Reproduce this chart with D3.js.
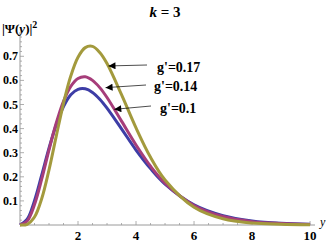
<!DOCTYPE html>
<html>
<head>
<meta charset="utf-8">
<script src="https://cdn.jsdelivr.net/npm/d3@7"></script>
<style>
  html, body { margin: 0; padding: 0; background: #fff; }
  svg { display: block; }
  text { font-family: "Liberation Serif", "DejaVu Serif", serif; }
</style>
</head>
<body>
<svg id="chart" width="330" height="244"></svg>
<script>
// Sample points
const xs = [0, 0.25, 0.5, 0.75, 1, 1.25, 1.5, 1.75, 2, 2.25, 2.5, 2.75, 3, 3.5, 4, 4.5, 5, 6, 7, 8, 9, 10];
const gBlue = [0, .024, .101, .208, .319, .416, .491, .540, .563, .565, .550, .522, .485, .399, .311, .234, .170, .084, .039, .017, .007, .003];
const gMagenta = [0, .017, .085, .191, .312, .423, .513, .575, .608, .615, .600, .570, .529, .431, .332, .244, .174, .081, .035, .014, .006, .002];
const gGold = [0, .003, .033, .110, .229, .369, .505, .618, .696, .736, .741, .716, .670, .541, .403, .281, .187, .074, .026, .008, .003, .001];

const xTicks = [2, 4, 6, 8, 10];
const yTicks = [0.1, 0.2, 0.3, 0.4, 0.5, 0.6, 0.7];

const series = [
    { name: "g'=0.1", values: gBlue, color: '#3d3da6' },
    { name: "g'=0.14", values: gMagenta, color: '#a63d7a' },
    { name: "g'=0.17", values: gGold, color: '#a39a3d' }
];

// label text, label anchor, arrow tip (data coords)
const labels = [
    { text: "g'=0.17", lx: 157, ly: 72, from: [147, 65], tip: [3.05, 0.66] },
    { text: "g'=0.14", lx: 154, ly: 91, from: [146, 85], tip: [2.95, 0.57] },
    { text: "g'=0.1", lx: 160, ly: 113, from: [151, 106], tip: [3.25, 0.48] }
];

const svg = d3.select('#chart');

const x = d3.scaleLinear().domain([0, 10.17]).range([20, 315]);
const y = d3.scaleLinear().domain([0, 0.8]).range([225, 32.2]);

const axisColor = '#9a9a9a';

// Axis lines
svg.append('line')
    .attr('x1', x(0)).attr('x2', x.range()[1])
    .attr('y1', y(0)).attr('y2', y(0))
    .attr('stroke', axisColor).attr('stroke-width', 1);
svg.append('line')
    .attr('x1', x(0)).attr('x2', x(0))
    .attr('y1', y(0)).attr('y2', y.range()[1])
    .attr('stroke', axisColor).attr('stroke-width', 1);

// X ticks (inward / upward)
const xMinor = d3.range(0.5, 10.01, 0.5).filter(v => !xTicks.includes(v));
svg.selectAll('.xminor').data(xMinor).join('line')
    .attr('x1', d => x(d)).attr('x2', d => x(d))
    .attr('y1', y(0)).attr('y2', y(0) - 2)
    .attr('stroke', axisColor).attr('stroke-width', 0.8);
svg.selectAll('.xmajor').data(xTicks).join('line')
    .attr('x1', d => x(d)).attr('x2', d => x(d))
    .attr('y1', y(0)).attr('y2', y(0) - 4)
    .attr('stroke', axisColor).attr('stroke-width', 0.8);
svg.selectAll('.xlab').data(xTicks).join('text')
    .attr('x', d => x(d)).attr('y', 240)
    .attr('text-anchor', 'middle')
    .attr('font-size', 13).attr('font-weight', 'bold')
    .text(d => d);

// Y ticks (inward / rightward)
const yMinor = d3.range(0.02, 0.79, 0.02).filter(v => !yTicks.some(t => Math.abs(t - v) < 1e-6));
svg.selectAll('.yminor').data(yMinor).join('line')
    .attr('x1', x(0)).attr('x2', x(0) + 2)
    .attr('y1', d => y(d)).attr('y2', d => y(d))
    .attr('stroke', axisColor).attr('stroke-width', 0.8);
svg.selectAll('.ymajor').data(yTicks).join('line')
    .attr('x1', x(0)).attr('x2', x(0) + 4)
    .attr('y1', d => y(d)).attr('y2', d => y(d))
    .attr('stroke', axisColor).attr('stroke-width', 0.8);
svg.selectAll('.ylab').data(yTicks).join('text')
    .attr('x', 18).attr('y', d => y(d) + 4)
    .attr('text-anchor', 'end')
    .attr('font-size', 12).attr('font-weight', 'bold')
    .text(d => d3.format('.1f')(d));

// Curves
const line = d3.line()
    .x((d, i) => x(xs[i]))
    .y(d => y(d))
    .curve(d3.curveCatmullRom.alpha(0.5));

svg.selectAll('.curve').data(series).join('path')
    .attr('d', d => line(d.values))
    .attr('fill', 'none')
    .attr('stroke', d => d.color)
    .attr('stroke-width', 3);

// Arrowhead marker
svg.append('defs').append('marker')
    .attr('id', 'arrow')
    .attr('viewBox', '0 0 10 10')
    .attr('refX', 10).attr('refY', 5)
    .attr('markerWidth', 9).attr('markerHeight', 7)
    .attr('markerUnits', 'userSpaceOnUse')
    .attr('orient', 'auto')
    .append('path')
    .attr('d', 'M0,0 L10,5 L0,10 Z')
    .attr('fill', '#000');

svg.selectAll('.arrow').data(labels).join('line')
    .attr('x1', d => d.from[0]).attr('y1', d => d.from[1])
    .attr('x2', d => x(d.tip[0])).attr('y2', d => y(d.tip[1]))
    .attr('stroke', '#000').attr('stroke-width', 0.7)
    .attr('marker-end', 'url(#arrow)');

svg.selectAll('.glab').data(labels).join('text')
    .attr('x', d => d.lx).attr('y', d => d.ly)
    .attr('font-size', 14).attr('font-weight', 'bold')
    .text(d => d.text);

// Title
const title = svg.append('text')
    .attr('x', 165).attr('y', 17)
    .attr('text-anchor', 'middle')
    .attr('font-size', 15).attr('font-weight', 'bold');
title.append('tspan').attr('font-style', 'italic').text('k');
title.append('tspan').text(' = 3');

// Y label
const yl = svg.append('text')
    .attr('x', 2).attr('y', 33)
    .attr('font-size', 13).attr('font-weight', 'bold');
yl.append('tspan').text('|Ψ(');
yl.append('tspan').attr('font-style', 'italic').text('y');
yl.append('tspan').text(')|');
yl.append('tspan').attr('dy', -5).attr('font-size', 10).text('2');

// X label
svg.append('text')
    .attr('x', 320).attr('y', 226)
    .attr('font-size', 12).attr('font-style', 'italic')
    .text('y');
</script>
</body>
</html>
